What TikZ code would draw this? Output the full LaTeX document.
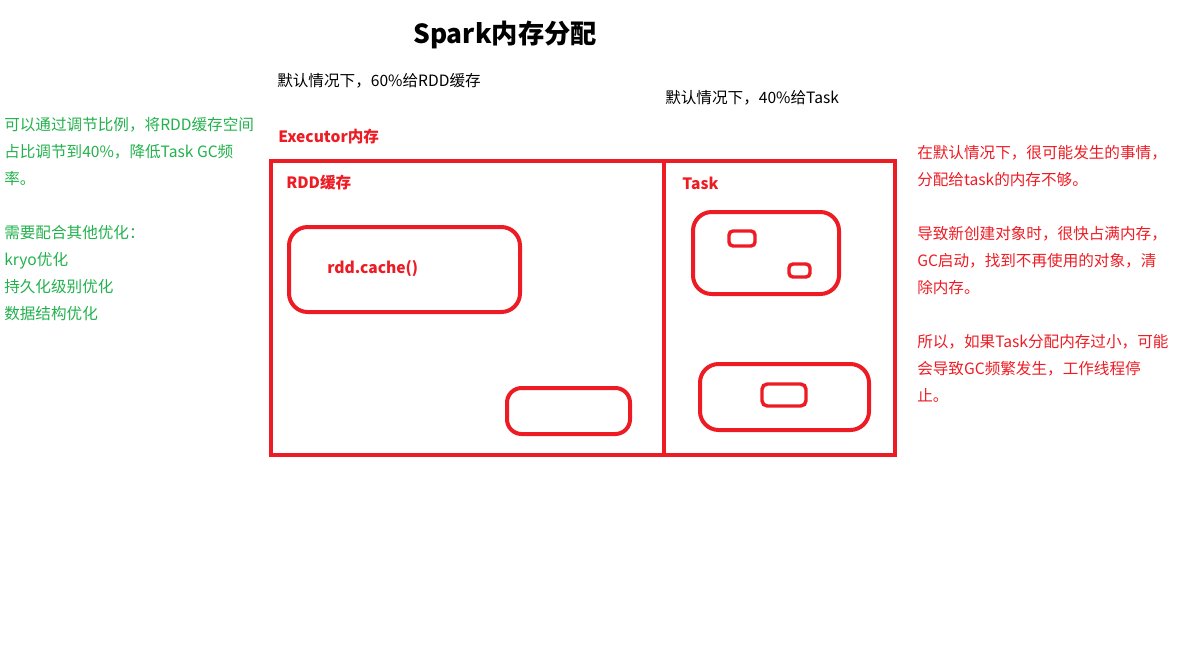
\documentclass[tikz,border=0pt]{standalone}
\usepackage{fontspec}
\setmainfont{Noto Sans CJK SC}
\definecolor{paintred}{HTML}{ED1C24}
\definecolor{paintgreen}{HTML}{22B14C}
\begin{document}
\begin{tikzpicture}[x=0.75pt,y=-0.75pt,
  note/.style={anchor=north west, inner sep=0pt, align=left, font=\fontsize{11.7}{20.25}\selectfont},
  tag/.style={anchor=west, inner sep=0pt, text=paintred, font=\fontsize{11.7}{14}\selectfont\bfseries},
  pen/.style={draw=paintred, line width=3pt},
  blob/.style={pen, rounded corners=14pt}]
\useasboundingbox (0,0) rectangle (1197,665);

% heading and the two shares
\node[inner sep=0pt, font=\fontsize{19.7}{22}\selectfont\bfseries] (title) at (505,35) {Spark内存分配};
\node[anchor=west, inner sep=0pt, font=\fontsize{11.7}{14}\selectfont] (rddshare) at (277,81) {默认情况下，60\%给RDD缓存};
\node[anchor=west, inner sep=0pt, font=\fontsize{11.7}{14}\selectfont] (taskshare) at (665,98) {默认情况下，40\%给Task};

% executor memory
\node[tag] (executor) at (278,137) {Executor内存};
\draw[pen] (271,161) rectangle (895,455);
\draw[pen] (664,161) -- (664,455);
\node[tag] (rddcache) at (286,183) {RDD缓存};
\node[tag] (task) at (682,183) {Task};

% rdd cache side
\draw[blob] (289,227) rectangle (520,312);
\node[tag] (cachecall) at (327,269) {rdd.cache()};
\draw[blob, rounded corners=11pt] (507,388) rectangle (630,434);

% task side
\draw[blob] (693,212) rectangle (839,294);
\draw[pen, line width=2.6pt, rounded corners=3pt] (729,231) rectangle (755,246);
\draw[pen, line width=2.6pt, rounded corners=3pt] (789,264) rectangle (810,277);
\draw[blob] (700,364) rectangle (869,430);
\draw[pen, line width=2.6pt, rounded corners=4pt] (762,384) rectangle (806,406);

% notes on the left
\node[note, text=paintgreen] (tuning) at (4,117) {可以通过调节比例，将RDD缓存空间\\占比调节到40\%，降低Task GC频\\率。};
\node[note, text=paintgreen] (others) at (4,225) {需要配合其他优化：\\kryo优化\\持久化级别优化\\数据结构优化};

% notes on the right
\node[note, text=paintred] (lack) at (917,145) {在默认情况下，很可能发生的事情，\\分配给task的内存不够。};
\node[note, text=paintred] (gc) at (917,226) {导致新创建对象时，很快占满内存，\\GC启动，找到不再使用的对象，清\\除内存。};
\node[note, text=paintred] (stop) at (917,334) {所以，如果Task分配内存过小，可能\\会导致GC频繁发生，工作线程停\\止。};
\end{tikzpicture}
\end{document}
